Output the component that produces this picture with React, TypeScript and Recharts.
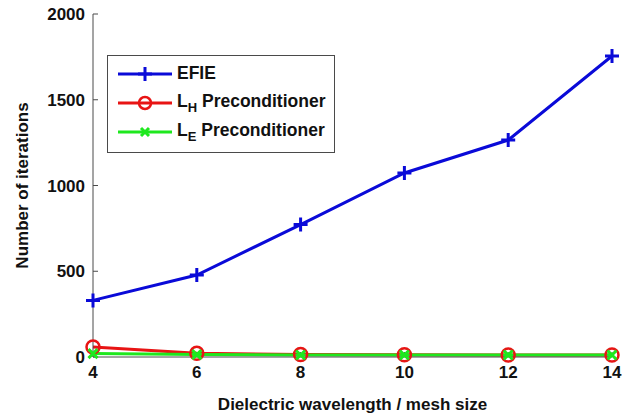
import React from 'react';
import { LineChart, Line, XAxis, YAxis } from 'recharts';

const meshRatio = [4, 6, 8, 10, 12, 14];
const efieIters = [330, 478, 772, 1073, 1265, 1755];
const lhIters = [58, 22, 15, 13, 12, 12];
const leIters = [20, 14, 12, 12, 12, 12];
const xTicks = [4, 6, 8, 10, 12, 14];
const yTicks = [0, 500, 1000, 1500, 2000];

const BLUE = '#0a0ad8';
const RED = '#e81414';
const GREEN = '#1ee81e';
const AXIS = '#4a4a4a';
const FONT = '"Liberation Sans", Arial, sans-serif';

const data = meshRatio.map((m, i) => ({ m, efie: efieIters[i], lh: lhIters[i], le: leIters[i] }));

const PlusDot = (p: any) => (
  <path key={`p${p.index}`} d={`M${p.cx - 7},${p.cy}H${p.cx + 7}M${p.cx},${p.cy - 7}V${p.cy + 7}`} stroke={BLUE} strokeWidth={3} />
);
const CircleDot = (p: any) => (
  <circle key={`c${p.index}`} cx={p.cx} cy={p.cy} r={6.5} fill="none" stroke={RED} strokeWidth={2.5} />
);
const CrossDot = (p: any) => (
  <path key={`x${p.index}`} d={`M${p.cx - 4.5},${p.cy - 4.5}L${p.cx + 4.5},${p.cy + 4.5}M${p.cx - 4.5},${p.cy + 4.5}L${p.cx + 4.5},${p.cy - 4.5}`} stroke={GREEN} strokeWidth={3} />
);

const legendItems = [
  { key: 'efie', color: BLUE, main: 'EFIE', sub: '', rest: '', marker: 'plus' },
  { key: 'lh', color: RED, main: 'L', sub: 'H', rest: ' Preconditioner', marker: 'circle' },
  { key: 'le', color: GREEN, main: 'L', sub: 'E', rest: ' Preconditioner', marker: 'cross' },
];

const LegendBox = () => (
  <div style={{ position: 'absolute', left: 107, top: 55, border: `1px solid ${AXIS}`, background: '#fff', width: 228, height: 98, padding: '3px 0 0 10px', boxSizing: 'border-box', fontFamily: FONT, fontWeight: 'bold', fontSize: 17.5, color: '#111' }}>
    {legendItems.map((it) => (
      <div key={it.key} style={{ display: 'flex', alignItems: 'center', height: 29 }}>
        <svg width={54} height={16} style={{ marginRight: 5 }}>
          <line x1={0} y1={8} x2={54} y2={8} stroke={it.color} strokeWidth={3} />
          {it.marker === 'plus' && <path d="M27,1V15M20,8H34" stroke={it.color} strokeWidth={3} />}
          {it.marker === 'circle' && <circle cx={27} cy={8} r={6} fill="none" stroke={it.color} strokeWidth={2.5} />}
          {it.marker === 'cross' && <path d="M23,4L31,12M23,12L31,4" stroke={it.color} strokeWidth={3} />}
        </svg>
        <span>
          {it.main}
          {it.sub && <sub style={{ fontSize: 13 }}>{it.sub}</sub>}
          {it.rest}
        </span>
      </div>
    ))}
  </div>
);

const tickStyle = { fill: '#111', fontSize: 17, fontWeight: 'bold', fontFamily: FONT };

export default function App() {
  return (
    <div style={{ position: 'absolute', left: 0, top: 0, width: 640, height: 416, background: '#fff' }}>
      <LineChart width={640} height={416} data={data} margin={{ top: 14, right: 28, bottom: 0, left: 0 }}>
        <XAxis
          dataKey="m"
          type="number"
          domain={[4, 14]}
          ticks={xTicks}
          stroke={AXIS}
          tickSize={-5}
          tickMargin={14}
          tick={tickStyle}
          height={59}
          label={{ value: 'Dielectric wavelength / mesh size', position: 'insideBottom', offset: 6, style: tickStyle }}
        />
        <XAxis xAxisId="top" orientation="top" dataKey="m" type="number" domain={[4, 14]} ticks={xTicks} stroke={AXIS} tickSize={-5} tickFormatter={() => ''} height={0} />
        <YAxis
          type="number"
          domain={[0, 2000]}
          ticks={yTicks}
          stroke={AXIS}
          tickSize={-5}
          tickMargin={13}
          tick={tickStyle}
          width={93}
          label={{ value: 'Number of iterations', angle: -90, position: 'insideLeft', offset: 22, style: { ...tickStyle, textAnchor: 'middle' } }}
        />
        <YAxis yAxisId="right" orientation="right" type="number" domain={[0, 2000]} ticks={yTicks} stroke={AXIS} tickSize={-5} tickFormatter={() => ''} width={0} />
        <Line dataKey="efie" stroke={BLUE} strokeWidth={3} dot={PlusDot} isAnimationActive={false} />
        <Line dataKey="lh" stroke={RED} strokeWidth={3} dot={CircleDot} isAnimationActive={false} />
        <Line dataKey="le" stroke={GREEN} strokeWidth={3} dot={CrossDot} isAnimationActive={false} />
      </LineChart>
      <LegendBox />
    </div>
  );
}
